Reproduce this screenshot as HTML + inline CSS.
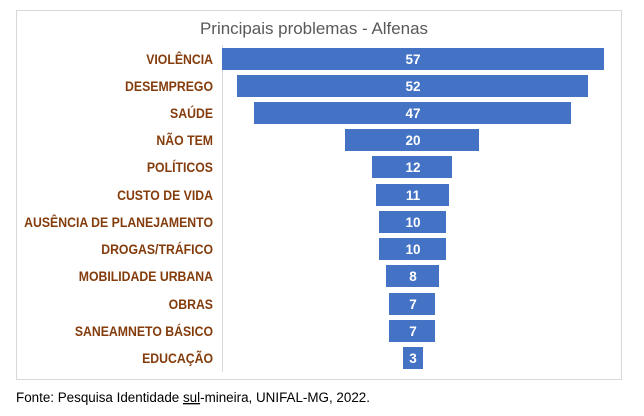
<!DOCTYPE html>
<html><head><meta charset="utf-8"><style>
body{margin:0;background:#fff;width:644px;height:411px;overflow:hidden}
</style></head><body>
<svg width="644" height="411" xmlns="http://www.w3.org/2000/svg" font-family="Liberation Sans, sans-serif">
<rect x="16.5" y="10.5" width="605" height="369" fill="#fff" stroke="#d9d9d9"/>
<text x="314" y="34" text-anchor="middle" font-size="17" fill="#595959" textLength="228" lengthAdjust="spacingAndGlyphs">Principais problemas - Alfenas</text>
<line x1="222.5" y1="45" x2="222.5" y2="372" stroke="#d9d9d9"/>
<g fill="#4472c4">
<rect x="222" y="48" width="382" height="22"/>
<rect x="237" y="75" width="351" height="22"/>
<rect x="254" y="102" width="317" height="22"/>
<rect x="345" y="129" width="134" height="22"/>
<rect x="372" y="156" width="80" height="22"/>
<rect x="376" y="184" width="73" height="22"/>
<rect x="379" y="211" width="67" height="22"/>
<rect x="379" y="238" width="67" height="22"/>
<rect x="386" y="265" width="53" height="22"/>
<rect x="389" y="293" width="46" height="22"/>
<rect x="389" y="320" width="46" height="22"/>
<rect x="403" y="347" width="20" height="22"/>
</g>
<g fill="#fff" font-weight="bold" font-size="13.5" text-anchor="middle">
<text x="413" y="64">57</text><text x="413" y="91">52</text><text x="413" y="118">47</text>
<text x="413" y="145">20</text><text x="413" y="172">12</text><text x="413" y="200">11</text>
<text x="413" y="227">10</text><text x="413" y="254">10</text><text x="413" y="281">8</text>
<text x="413" y="309">7</text><text x="413" y="336">7</text><text x="413" y="363">3</text>
</g>
<g transform="translate(213,0) scale(0.91,1)" fill="#843c0c" font-weight="bold" font-size="13.5" text-anchor="end">
<text x="0" y="64">VIOLÊNCIA</text>
<text x="0" y="91">DESEMPREGO</text>
<text x="0" y="118">SAÚDE</text>
<text x="0" y="145">NÃO TEM</text>
<text x="0" y="172">POLÍTICOS</text>
<text x="0" y="200">CUSTO DE VIDA</text>
<text x="0" y="227">AUSÊNCIA DE PLANEJAMENTO</text>
<text x="0" y="254">DROGAS/TRÁFICO</text>
<text x="0" y="281">MOBILIDADE URBANA</text>
<text x="0" y="309">OBRAS</text>
<text x="0" y="336">SANEAMNETO BÁSICO</text>
<text x="0" y="363">EDUCAÇÃO</text>
</g>
<text x="16" y="402" font-size="13.5" fill="#000" textLength="354" lengthAdjust="spacingAndGlyphs">Fonte: Pesquisa Identidade <tspan text-decoration="underline">sul</tspan>-mineira, UNIFAL-MG, 2022.</text>
</svg>
</body></html>
